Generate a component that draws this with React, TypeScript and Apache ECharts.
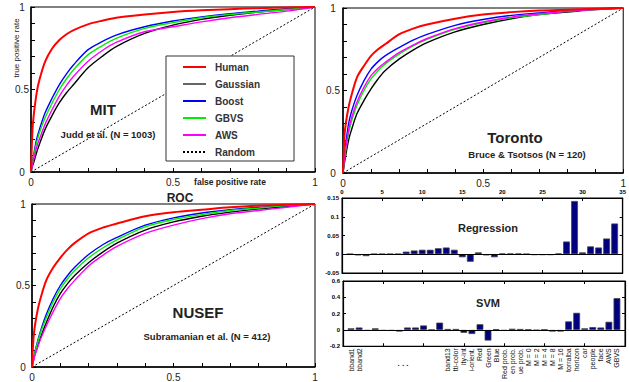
import React, { useEffect, useRef } from 'react';
import * as echarts from 'echarts';

// ---------- data ----------
const fpr = [0, 0.005, 0.01, 0.02, 0.03, 0.05, 0.075, 0.1, 0.125, 0.15, 0.2, 0.25, 0.3, 0.4, 0.5, 0.6, 0.7, 0.8, 0.9, 1];

const mitHuman = [0, 0.25, 0.35, 0.48, 0.56, 0.67, 0.75, 0.8, 0.835, 0.86, 0.895, 0.917, 0.935, 0.955, 0.97, 0.98, 0.987, 0.993, 0.997, 1];
const mitGaussian = [0, 0.035, 0.06, 0.12, 0.17, 0.26, 0.345, 0.42, 0.48, 0.53, 0.63, 0.7, 0.76, 0.84, 0.89, 0.925, 0.95, 0.97, 0.985, 1];
const mitBoost = [0, 0.06, 0.11, 0.2, 0.26, 0.36, 0.45, 0.53, 0.595, 0.65, 0.74, 0.79, 0.83, 0.88, 0.915, 0.94, 0.96, 0.975, 0.99, 1];
const mitGbvs = [0, 0.055, 0.1, 0.18, 0.24, 0.33, 0.42, 0.5, 0.565, 0.62, 0.71, 0.765, 0.81, 0.87, 0.905, 0.935, 0.955, 0.97, 0.985, 1];
const mitAws = [0, 0.045, 0.08, 0.15, 0.2, 0.29, 0.38, 0.46, 0.525, 0.58, 0.67, 0.735, 0.785, 0.85, 0.88, 0.91, 0.935, 0.955, 0.975, 1];

const toHuman = [0, 0.22, 0.3, 0.4, 0.47, 0.58, 0.65, 0.71, 0.75, 0.78, 0.84, 0.875, 0.9, 0.935, 0.96, 0.975, 0.985, 0.99, 0.995, 1];
const toGaussian = [0, 0.06, 0.11, 0.2, 0.26, 0.36, 0.44, 0.51, 0.57, 0.62, 0.69, 0.745, 0.79, 0.855, 0.9, 0.935, 0.96, 0.975, 0.99, 1];
const toBoost = [0, 0.1, 0.18, 0.3, 0.37, 0.47, 0.56, 0.63, 0.675, 0.71, 0.76, 0.805, 0.84, 0.895, 0.93, 0.955, 0.97, 0.985, 0.995, 1];
const toGbvs = [0, 0.08, 0.14, 0.24, 0.31, 0.41, 0.5, 0.57, 0.62, 0.66, 0.72, 0.77, 0.81, 0.87, 0.91, 0.94, 0.96, 0.98, 0.99, 1];
const toAws = [0, 0.085, 0.15, 0.26, 0.33, 0.43, 0.52, 0.59, 0.635, 0.67, 0.73, 0.775, 0.815, 0.875, 0.915, 0.945, 0.965, 0.98, 0.99, 1];

const nuHuman = [0, 0.17, 0.25, 0.35, 0.42, 0.53, 0.61, 0.67, 0.72, 0.76, 0.82, 0.855, 0.88, 0.925, 0.95, 0.965, 0.98, 0.99, 0.995, 1];
const nuGaussian = [0, 0.04, 0.075, 0.13, 0.18, 0.27, 0.37, 0.45, 0.51, 0.56, 0.64, 0.705, 0.76, 0.84, 0.89, 0.925, 0.95, 0.97, 0.985, 1];
const nuBoost = [0, 0.05, 0.09, 0.16, 0.22, 0.32, 0.42, 0.5, 0.56, 0.61, 0.69, 0.75, 0.795, 0.87, 0.915, 0.945, 0.965, 0.98, 0.99, 1];
const nuGbvs = [0, 0.045, 0.085, 0.15, 0.21, 0.3, 0.4, 0.48, 0.54, 0.59, 0.67, 0.73, 0.78, 0.86, 0.905, 0.935, 0.96, 0.975, 0.99, 1];
const nuAws = [0, 0.035, 0.07, 0.12, 0.17, 0.25, 0.34, 0.42, 0.48, 0.53, 0.62, 0.685, 0.74, 0.82, 0.87, 0.91, 0.94, 0.96, 0.98, 1];

const chance = [0, 1];

const modelNames = ['Human', 'Gaussian', 'Boost', 'GBVS', 'AWS'];
const legendNames = ['Human', 'Gaussian', 'Boost', 'GBVS', 'AWS', 'Random'];

const featureLabels = [
  'bband1', 'bband2', '', '', '', '', '', '', '', '', '', '',
  'band13', 'tti-color', 'ity-int', 'i-orient.', 'Red', 'Green', 'Blue',
  'Red prob.', 'en prob.', 'ue prob.', 'M = 0', 'M = 2', 'M = 4', 'M = 8', 'M = 16',
  'torralba', 'horizon', 'car', 'people', 'face', 'AWS', 'GBVS',
];

const regression = [
  0.001, -0.003, -0.005, 0.001, 0.001, 0.001, 0.001, 0.007, 0.01, 0.012, 0.012, 0.016,
  0.018, 0.012, -0.008, -0.02, 0.005, -0.003, -0.008, 0.002, 0.002, 0.002, 0.001, -0.002,
  -0.002, -0.002, 0.002, 0.034, 0.142, 0.005, 0.021, 0.018, 0.042, 0.082,
];

const svm = [
  0.02, 0.03, -0.01, 0.02, -0.01, -0.01, -0.02, 0.03, 0.03, 0.055, 0.003, 0.09,
  0.012, 0.012, -0.035, -0.05, 0.07, -0.13, 0.01, -0.01, 0.015, 0.012, 0.005, -0.005,
  0.005, -0.02, -0.02, 0.105, 0.21, 0.02, 0.035, 0.03, 0.1, 0.39,
];

const barTickLabels = Array.from({ length: 36 }, (_, i) => String(i));

// ---------- styles ----------
const FONT = 'Liberation Sans, Arial, sans-serif';
const colors: Record<string, string> = {
  Human: '#ff0000',
  Gaussian: '#000000',
  Boost: '#0000ff',
  GBVS: '#00ee00',
  AWS: '#ff00ff',
};

const rocFmt = (v: number) =>
  Math.abs(v) < 1e-9 ? '0' : Math.abs(v - 0.5) < 1e-9 ? '0.5' : Math.abs(v - 1) < 1e-9 ? '1' : '';

function rocX(gridIndex: number) {
  return {
    type: 'value', gridIndex, min: 0, max: 1, interval: 0.1,
    axisLine: { show: true, onZero: false, lineStyle: { color: '#000', width: 1.5 } },
    axisTick: { show: true, inside: true, length: 4, lineStyle: { color: '#000' } },
    axisLabel: { formatter: rocFmt, color: '#222', fontSize: 10, fontFamily: FONT, margin: 5 },
    splitLine: { show: false },
  };
}
function rocY(gridIndex: number, margin: number) {
  return {
    type: 'value', gridIndex, min: 0, max: 1, interval: 0.1,
    axisLine: { show: true, onZero: false, lineStyle: { color: '#000', width: 1.5 } },
    axisTick: { show: true, inside: true, length: 4, lineStyle: { color: '#000' } },
    axisLabel: { formatter: rocFmt, color: '#222', fontSize: 10, fontFamily: FONT, margin, align: 'center' },
    splitLine: { show: false },
  };
}

function rocSeries(idx: number, curves: number[][]) {
  const out: any[] = modelNames.map((name, k) => ({
    type: 'line', name, xAxisIndex: idx, yAxisIndex: idx,
    data: fpr.map((x, i) => [x, curves[k][i]]),
    smooth: 0.3, symbol: 'none',
    lineStyle: { color: colors[name], width: name === 'Human' ? 2 : 1.4 },
    itemStyle: { color: colors[name] },
    z: name === 'Human' ? 5 : 3,
  }));
  out.push({
    type: 'line', name: 'Random', xAxisIndex: idx, yAxisIndex: idx,
    data: chance.map((v) => [v, v]), symbol: 'none',
    lineStyle: { color: '#000', width: 1, type: [2, 2] },
    itemStyle: { color: '#000' },
    z: 2,
  });
  return out;
}

const fives = (i: number) => i % 5 === 0;

function catAxis(gridIndex: number, position: string, data: string[], label: any) {
  return {
    type: 'category', gridIndex, position, data, boundaryGap: false,
    axisLine: { show: true, onZero: false, lineStyle: { color: '#000', width: 1.2 } },
    axisTick: { show: true, inside: true, length: 3, interval: fives, lineStyle: { color: '#000' } },
    axisLabel: label,
    splitLine: { show: false },
  };
}
function barY(gridIndex: number, min: number, max: number, interval: number, position: string, showLabel: boolean) {
  return {
    type: 'value', gridIndex, min, max, interval, position,
    axisLine: { show: true, onZero: false, lineStyle: { color: '#000', width: 1.2 } },
    axisTick: { show: true, inside: true, length: 3, lineStyle: { color: '#000' } },
    axisLabel: { show: showLabel, fontSize: 6, fontWeight: 'bold', color: '#000', fontFamily: FONT, margin: 3 },
    splitLine: { show: false },
  };
}

function barSeries(xi: number, yi: number, values: number[]) {
  return {
    type: 'bar', xAxisIndex: xi, yAxisIndex: yi,
    data: ['-', ...values],
    barWidth: 6.8,
    itemStyle: { color: '#00007f', borderColor: '#444', borderWidth: 0.8 },
    markLine: {
      silent: true, symbol: 'none', label: { show: false },
      lineStyle: { color: '#000', width: 1, type: 'solid' },
      data: [{ yAxis: 0 }],
    },
  };
}

function txt(text: string, x: number, y: number, size: number, bold = true, extra: any = {}) {
  return {
    type: 'text', x, y, ...extra,
    style: {
      text, fontSize: size, fontWeight: bold ? 'bold' : 'normal', fontFamily: FONT,
      fill: '#222', align: 'center', verticalAlign: 'middle',
    },
    z: 100,
  };
}

export default function App() {
  const ref = useRef<HTMLDivElement>(null);
  useEffect(() => {
    if (!ref.current) return;
    const chart = echarts.init(ref.current, null, { renderer: 'svg' });
    const border = { show: true, borderColor: '#000', borderWidth: 1, backgroundColor: 'transparent' };
    const option: any = {
      animation: false,
      backgroundColor: '#fff',
      grid: [
        { left: 31, top: 7, width: 284, height: 165, ...border },
        { left: 343, top: 8, width: 284, height: 165, ...border },
        { left: 32, top: 204, width: 283, height: 165, ...border },
        { left: 342, top: 198, width: 282, height: 75, ...border },
        { left: 343, top: 281, width: 282, height: 72, ...border },
      ],
      xAxis: [
        rocX(0),
        rocX(1),
        rocX(2),
        catAxis(3, 'top', barTickLabels, {
          interval: fives, fontSize: 6, fontWeight: 'bold', color: '#000', fontFamily: FONT, margin: 3,
        }),
        catAxis(3, 'bottom', barTickLabels, { show: false }),
        catAxis(4, 'top', barTickLabels, { show: false }),
        catAxis(4, 'bottom', ['', ...featureLabels, ''], {
          interval: 0, rotate: 90, fontSize: 7, color: '#111', fontFamily: FONT, margin: 2,
        }),
      ],
      yAxis: [
        rocY(0, 9),
        rocY(1, 10),
        rocY(2, 9),
        barY(3, -0.05, 0.15, 0.05, 'left', true),
        barY(3, -0.05, 0.15, 0.05, 'right', false),
        barY(4, -0.2, 0.6, 0.2, 'left', true),
        barY(4, -0.2, 0.6, 0.2, 'right', false),
      ],
      legend: {
        left: 166, top: 56, orient: 'vertical',
        data: legendNames.map((name) =>
          name === 'Gaussian' ? { name, lineStyle: { color: '#666' } } : { name }
        ),
        itemWidth: 23, itemHeight: 10, itemGap: 7,
        padding: [6, 34, 4, 16],
        backgroundColor: '#fff', borderColor: '#333', borderWidth: 1, borderRadius: 0,
        itemStyle: { opacity: 0 },
        textStyle: { fontSize: 10, fontWeight: 'bold', color: '#333', fontFamily: FONT, padding: [0, 0, 0, 4] },
        selectedMode: false,
        z: 20,
      },
      series: [
        ...rocSeries(0, [mitHuman, mitGaussian, mitBoost, mitGbvs, mitAws]),
        ...rocSeries(1, [toHuman, toGaussian, toBoost, toGbvs, toAws]),
        ...rocSeries(2, [nuHuman, nuGaussian, nuBoost, nuGbvs, nuAws]),
        barSeries(3, 3, regression),
        barSeries(6, 5, svm),
      ],
      graphic: [
        txt('MIT', 103, 109, 15),
        txt('Judd et al. (N = 1003)', 108, 134, 9.5),
        txt('Toronto', 515, 137, 15),
        txt('Bruce & Tsotsos (N = 120)', 527, 154, 9.5),
        txt('NUSEF', 198, 312, 15),
        txt('Subramanian et al. (N = 412)', 207, 336, 9.5),
        txt('ROC', 180, 198, 12),
        txt('Regression', 488, 228, 11),
        txt('SVM', 488, 303, 11),
        txt('false positive rate', 230, 182, 8.5),
        txt('true positive rate', 16, 48, 8, false, { rotation: Math.PI / 2 }),
        txt('. . .', 403, 363, 8),
      ],
    };
    chart.setOption(option);
    return () => chart.dispose();
  }, []);
  return (
    <div
      ref={ref}
      style={{ position: 'fixed', left: 0, top: 0, width: 629, height: 382, background: '#fff' }}
    />
  );
}
